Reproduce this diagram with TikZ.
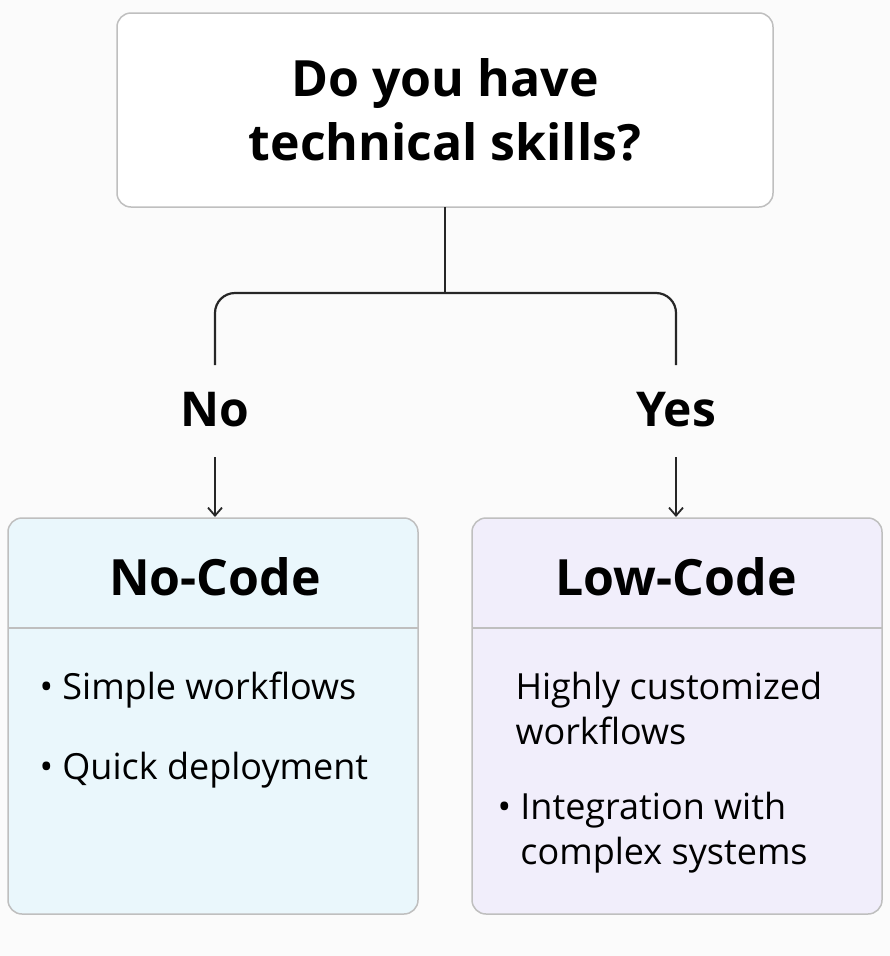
\documentclass[tikz,border=0pt]{standalone}
\usepackage{fontspec}
\usetikzlibrary{arrows.meta}
\setmainfont{Open Sans}
\definecolor{lowfill}{HTML}{F1EEFB}
\definecolor{nofill}{HTML}{EAF7FC}
\begin{document}
\begin{tikzpicture}[x=1pt,y=-1pt,
  box/.style={draw=black!25,line width=1.5pt,rounded corners=14pt},
  ttl/.style={font=\fontsize{50}{64}\selectfont\bfseries},
  itm/.style={font=\fontsize{36}{45}\selectfont,anchor=west,align=left},
  conn/.style={line width=2.2pt,draw=black!85}]
\useasboundingbox (0,0) rectangle (890,956);
\fill[black!1.5] (0,0) rectangle (890,956);
\draw[box,fill=white] (117,13) rectangle (773,207);
\node[ttl,align=center] (q) at (445,110) {Do you have\\technical skills?};
\coordinate (qb) at (445,207);
\coordinate (j) at (445,293);
\coordinate (nl) at (215,365);
\coordinate (yl) at (676,365);
\draw[conn,rounded corners=20pt] (nl) |- (j) -| (yl);
\draw[conn] (qb) -- (j);
\node[ttl,font=\fontsize{48}{54}\selectfont\bfseries] (no) at (215,410) {No};
\node[ttl,font=\fontsize{48}{54}\selectfont\bfseries] (yes) at (676,410) {Yes};
\draw[box,fill=nofill] (8,518) rectangle (418,914);
\draw[box,fill=lowfill] (472,518) rectangle (882,914);
\draw[black!25,line width=1.5pt] (8,628) -- (418,628);
\draw[black!25,line width=1.5pt] (472,628) -- (882,628);
\coordinate (na) at (215,457); \coordinate (nb) at (215,517);
\coordinate (ya) at (676,457); \coordinate (yb) at (676,517);
\draw[conn,line width=1.8pt,-{Straight Barb[length=8pt,width=14pt]}] (na) -- (nb);
\draw[conn,line width=1.8pt,-{Straight Barb[length=8pt,width=14pt]}] (ya) -- (yb);
\node[ttl] (nc) at (215,577) {No-Code};
\node[ttl] (lc) at (676,577) {Low-Code};
\node[itm] (n1) at (36,690) {\textbullet\ Simple workflows};
\node[itm] (n2) at (36,770) {\textbullet\ Quick deployment};
\node[itm] (l1) at (512,708) {Highly customized\\workflows};
\node[itm] (l2) at (494,833) {\textbullet\ Integration with\\\phantom{\textbullet\ }complex systems};
\end{tikzpicture}
\end{document}
